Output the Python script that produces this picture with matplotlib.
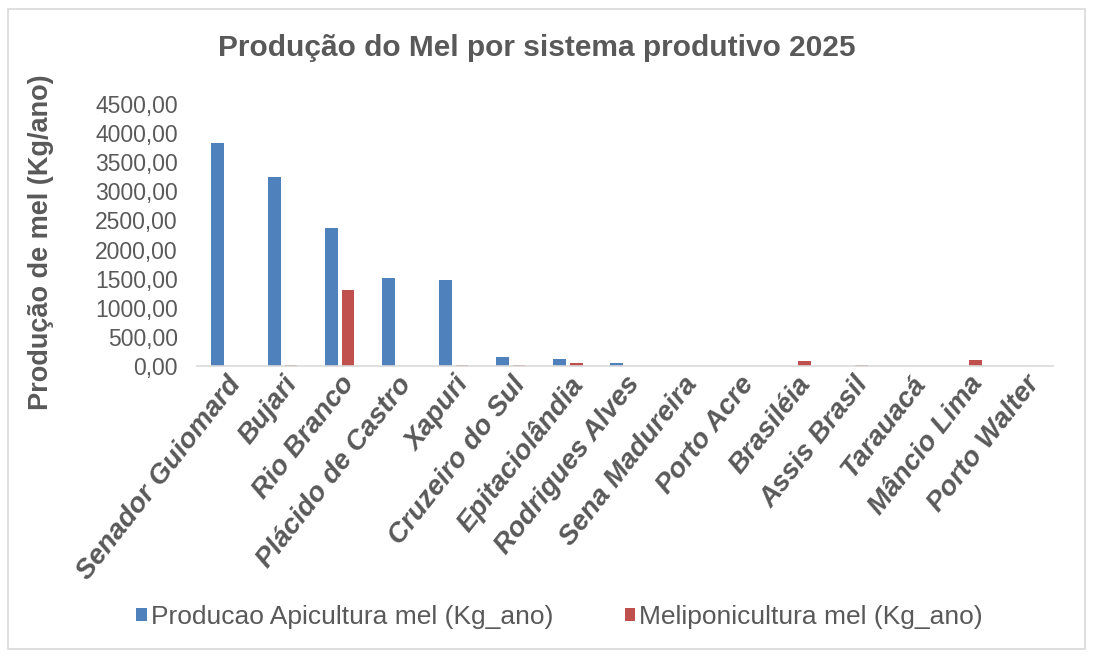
"""
Produção do Mel por sistema produtivo 2025 - grouped bar chart.
"""
import matplotlib.pyplot as plt
import matplotlib.patches as patches
from matplotlib.ticker import FuncFormatter
import numpy as np

plt.rcParams['font.family'] = ['Liberation Sans', 'DejaVu Sans']

# Data
municipios = ['Senador Guiomard', 'Bujari', 'Rio Branco', 'Plácido de Castro',
              'Xapuri', 'Cruzeiro do Sul', 'Epitaciolândia', 'Rodrigues Alves',
              'Sena Madureira', 'Porto Acre', 'Brasiléia', 'Assis Brasil',
              'Tarauacá', 'Mâncio Lima', 'Porto Walter']
apicultura = [3825, 3240, 2375, 1505, 1478, 150, 128, 50,
              6, 5, 0, 0, 0, 0, 0]
meliponicultura = [8, 10, 1305, 6, 10, 15, 45, 0,
                   8, 5, 78, 15, 4, 95, 5]
yticks = [0, 500, 1000, 1500, 2000, 2500, 3000, 3500, 4000, 4500]

grey = '#595959'
blue = '#4F81BD'
red = '#C0504D'

fig = plt.figure(figsize=(10.95, 6.58), dpi=100)
fig.patches.append(patches.Rectangle(
    (0.007, 0.014), 0.984, 0.972, transform=fig.transFigure,
    fill=False, edgecolor='#D9D9D9', linewidth=1.2))

ax = fig.add_axes([0.180, 0.4438, 0.7816, 0.3982])

x = np.arange(len(municipios))
w = 0.22
ax.bar(x - 0.145, apicultura, w, color=blue,
       label='Producao Apicultura mel (Kg_ano)')
ax.bar(x + 0.145, meliponicultura, w, color=red,
       label='Meliponicultura mel (Kg_ano)')

ax.set_xlim(-0.5, len(municipios) - 0.5)
ax.set_ylim(0, 4500)
ax.set_yticks(yticks)
ax.yaxis.set_major_formatter(
    FuncFormatter(lambda v, p: f'{v:.2f}'.replace('.', ',')))
ax.tick_params(axis='y', length=0, labelsize=16.5, labelcolor=grey, pad=14)
ax.tick_params(axis='x', length=0, pad=4)

ax.set_xticks(x)
ax.set_xticklabels(municipios, rotation=52, ha='right', rotation_mode='anchor',
                   fontsize=20, fontweight='bold', fontstyle='italic',
                   color=grey)

for s in ['top', 'right', 'left']:
    ax.spines[s].set_visible(False)
ax.spines['bottom'].set_color('#D9D9D9')
ax.spines['bottom'].set_linewidth(1.2)

ax.set_ylabel('Produção de mel (Kg/ano)', fontsize=19.5, fontweight='bold',
              color=grey)
ax.yaxis.set_label_coords(-0.167, 0.473)

fig.text(0.49, 0.927, 'Produção do Mel por sistema produtivo 2025',
         ha='center', va='center', fontsize=21.5, fontweight='bold',
         color=grey)

fig.legend(loc='center', bbox_to_anchor=(0.511, 0.062), ncol=2,
           frameon=False, fontsize=19, labelcolor=grey,
           handlelength=0.4, handleheight=0.4, handletextpad=0.15,
           columnspacing=2.7)

fig.savefig('out.png', dpi=100)
